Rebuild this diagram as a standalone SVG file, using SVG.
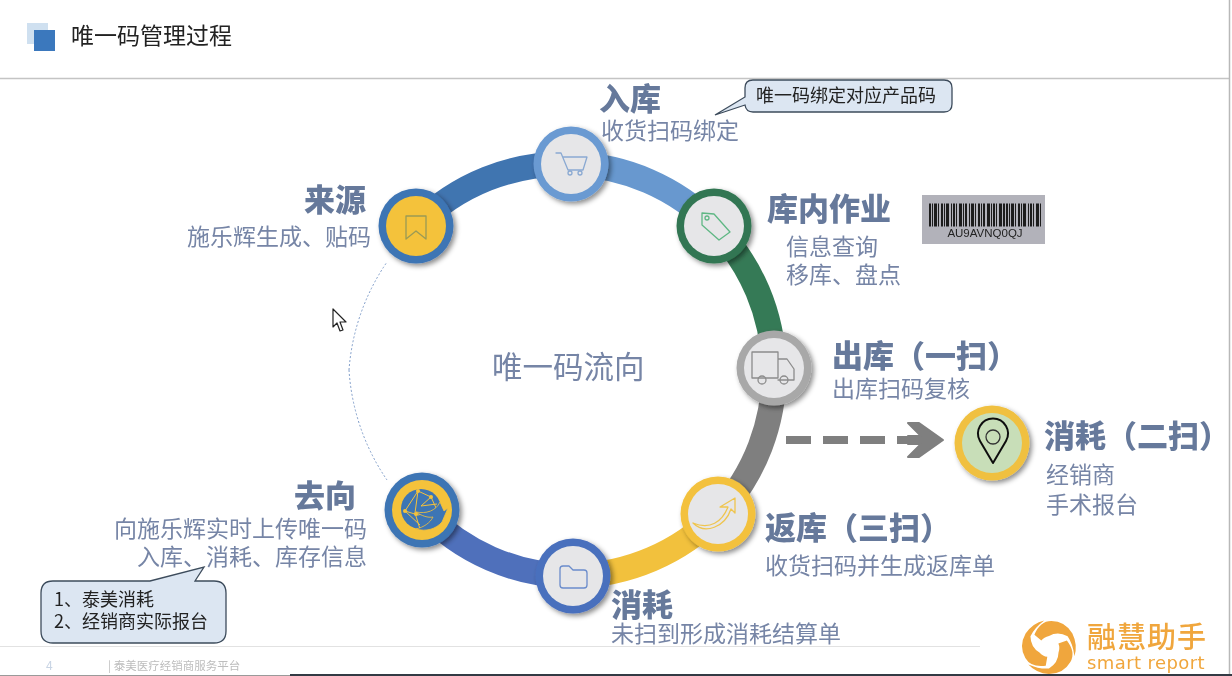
<svg xmlns="http://www.w3.org/2000/svg" width="1232" height="676" viewBox="0 0 1232 676">
<style>
text{font-family:"Noto Sans CJK SC","Noto Sans",sans-serif}
.h{font-size:31px;font-weight:900;fill:#66799b}
.s{font-size:23px;fill:#7685a6}
.c{font-size:18px;fill:#222}
.e{text-anchor:end}
.arc{fill:none;stroke-width:25}
.ic{fill:none;stroke-width:1.300;stroke-linejoin:round;stroke-linecap:round}
.in{fill:#e6e6e8}
</style>
<defs>
<filter id="sh" x="-30%" y="-30%" width="170%" height="170%"><feDropShadow dx="2.5" dy="2.5" stdDeviation="2.5" flood-color="#000" flood-opacity=".45"/></filter>
<filter id="soft" x="-5%" y="-5%" width="110%" height="110%"><feGaussianBlur stdDeviation=".4"/></filter>
<path id="blade" d="M1034.400 634.800Q1040 621 1051.300 621Q1065 621 1072.400 633.500Q1078 645 1074.400 656.200Q1073 644 1067.600 636.300Q1058 631 1049 636Q1044 637 1041.300 640.600Z"/>
</defs>
<rect width="1232" height="676" fill="#fff"/>
<g filter="url(#soft)">
<g id="header">
<rect x="27" y="23" width="21" height="21" fill="#cfe0f0"/>
<rect x="34" y="30" width="21" height="21" fill="#3a78bd"/>
<text x="71" y="44" font-size="23" fill="#222">唯一码管理过程</text>
<line x1="0" y1="78.500" x2="1229" y2="78.500" stroke="#c4c4c4" stroke-width="1.500"/>
</g>
<g id="connectors">
<path d="M349 370A219 219 0 0 1 387 262" fill="none" stroke="#7f9cc8" stroke-width="1" stroke-dasharray="2 2"/>
<path d="M349 370A219 219 0 0 0 387 480" fill="none" stroke="#7f9cc8" stroke-width="1" stroke-dasharray="2 2"/>
<path class="arc" stroke="#4174b0" d="M416 226A208 208 0 0 1 571 164"/>
<path class="arc" stroke="#6798cf" d="M571 164A208 208 0 0 1 714 226"/>
<path class="arc" stroke="#367a56" d="M714 226A208 208 0 0 1 774 368"/>
<path class="arc" stroke="#7f7f7f" d="M774 368A208 208 0 0 1 718 514"/>
<path class="arc" stroke="#f2c13c" d="M718 514A208 208 0 0 1 573 576"/>
<path class="arc" stroke="#4f70bb" d="M573 576A208 208 0 0 1 422 510"/>
<path d="M786 440H908" fill="none" stroke="#7f7f7f" stroke-width="8" stroke-dasharray="25 12"/>
<path d="M908 423L919 423L943 440L919 457L908 457L921 444H908V436H921Z" fill="#7f7f7f" stroke="#7f7f7f" stroke-width="2" stroke-linejoin="round"/>
</g>
<g id="node-source">
<circle cx="416" cy="226" r="37.500" fill="#3e74b4" filter="url(#sh)"/><circle cx="416" cy="226" r="30" fill="#f4c23b"/>
<path class="ic" stroke="#9a9a55" d="M406 216H426V239L416 231L406 239Z"/>
<text class="h e" x="366" y="211">来源</text>
<text class="s e" x="371" y="245">施乐辉生成、贴码</text>
</g>
<g id="node-inbound">
<circle cx="571" cy="164" r="37.500" fill="#6a9ad2" filter="url(#sh)"/><circle class="in" cx="571" cy="164" r="30"/>
<path class="ic" stroke="#8aa9d2" d="M556 153H561L568 170H583L587 157H563"/><circle class="ic" stroke="#8aa9d2" cx="570" cy="173" r="2"/><circle class="ic" stroke="#8aa9d2" cx="580" cy="173" r="2"/>
<text class="h" x="599" y="110">入库</text>
<text class="s" x="601" y="139">收货扫码绑定</text>
</g>
<g id="node-warehouse">
<circle cx="714" cy="226" r="37.500" fill="#327652" filter="url(#sh)"/><circle class="in" cx="714" cy="226" r="30"/>
<path class="ic" stroke="#5fb784" d="M702 213L714 214L730 232L719 240L702 225Z"/><circle class="ic" stroke="#5fb784" cx="707" cy="218" r="2"/>
<text class="h" x="767" y="220">库内作业</text>
<text class="s" x="786" y="255">信息查询</text>
<text class="s" x="786" y="283">移库、盘点</text>
</g>
<g id="node-outbound">
<circle cx="774" cy="368" r="37.500" fill="#a8a8a8" filter="url(#sh)"/><circle class="in" cx="774" cy="368" r="30"/>
<path class="ic" stroke="#8c8c8c" d="M752 352H778V378H752ZM778 359H787L794 369V380H778"/><circle class="ic" stroke="#8c8c8c" fill="#e6e6e8" cx="762" cy="380" r="4"/><circle class="ic" stroke="#8c8c8c" cx="784" cy="380" r="4"/>
<text class="h" x="832" y="367">出库（一扫）</text>
<text class="s" x="832" y="397">出库扫码复核</text>
</g>
<g id="node-return">
<circle cx="718" cy="514" r="37.500" fill="#f3c13c" filter="url(#sh)"/><circle class="in" cx="718" cy="514" r="30"/>
<path class="ic" stroke="#efc54f" d="M693 523C710 530 722 522 728 507L720 507L735 498L735 513L731 509C725 527 705 535 693 523Z"/>
<text class="h" x="765" y="539">返库（三扫）</text>
<text class="s" x="765" y="574">收货扫码并生成返库单</text>
</g>
<g id="node-consume">
<circle cx="573" cy="576" r="37.500" fill="#4a6fbd" filter="url(#sh)"/><circle class="in" cx="573" cy="576" r="30"/>
<path class="ic" stroke="#6b8ccb" d="M560 569Q560 566 563 566H569L573 570H584Q587 570 587 573V585Q587 588 584 588H563Q560 588 560 585Z"/>
<text class="h" x="611" y="616">消耗</text>
<text class="s" x="611" y="642">未扫到形成消耗结算单</text>
</g>
<g id="node-destination">
<circle cx="422" cy="510" r="37.500" fill="#3e74b4" filter="url(#sh)"/><circle cx="422" cy="510" r="30" fill="#f4c23b"/>
<circle cx="421" cy="509" r="20" fill="#3e74b4"/>
<path d="M405 511L418 491L431 497L437 510L418 515ZM418 491L415 513L420 529M405 511L420 525M431 497L421 506L437 504" fill="none" stroke="#f4c23b" stroke-width="1"/>
<path d="M416 512C426 514 436 511 440 502L444 511L448 508L442 522C436 529 426 532 416 529C424 527 430 523 433 517C428 518 422 516 416 512Z" fill="#3e74b4" stroke="#f4c23b" stroke-width=".8"/>
<g fill="#f4c23b"><circle cx="405" cy="511" r="2"/><circle cx="418" cy="491" r="2"/><circle cx="431" cy="497" r="2"/><circle cx="416" cy="514" r="2"/></g>
<text class="h e" x="356" y="507">去向</text>
<text class="s e" x="367" y="537">向施乐辉实时上传唯一码</text>
<text class="s e" x="367" y="565">入库、消耗、库存信息</text>
</g>
<g id="node-consume-2">
<circle cx="992" cy="443" r="37.500" fill="#f0c03f" filter="url(#sh)"/><circle cx="992" cy="443" r="30" fill="#c8deb8"/>
<path d="M993 463L980 441A15 15 0 1 1 1006 441Z" fill="none" stroke="#111" stroke-width="2" stroke-linejoin="round"/><circle cx="993" cy="437" r="7" fill="none" stroke="#333" stroke-width="1.300"/>
<text class="h" x="1044" y="447">消耗（二扫）</text>
<text class="s" x="1046" y="483">经销商</text>
<text class="s" x="1046" y="513">手术报台</text>
</g>
<g id="center-label"><text x="492" y="378" font-size="30.500" fill="#7685a6">唯一码流向</text></g>
<g id="callout-top">
<path d="M753 80H944Q952 80 952 88V104Q952 112 944 112H753Q746 112 745 105L715 115L745 97V88Q745 80 753 80Z" fill="#dce6f2" stroke="#3d4c5c" stroke-width="1.300"/>
<text class="c" x="756" y="102">唯一码绑定对应产品码</text>
</g>
<g id="callout-bottom">
<path d="M53 581H150L204 567L195 581H214Q226 581 226 593V631Q226 643 214 643H53Q41 643 41 631V593Q41 581 53 581Z" fill="#dce6f2" stroke="#3d4c5c" stroke-width="1.300"/>
<text x="54" y="606" font-size="18" fill="#222">1、泰美消耗</text>
<text x="54" y="628" font-size="18" fill="#222">2、经销商实际报台</text>
</g>
<g id="barcode">
<rect x="922" y="195" width="123" height="49" fill="#b2b2ba"/>
<line x1="929" y1="215" x2="1041" y2="215" stroke="#1a1a1e" stroke-width="23" stroke-dasharray="2 1 1 1 3 1 1 2 2 1 1 1 3 2 1 1 2 1 1 2 3 1 1 1 2 2 1 1 3 1 1 2 2 1 1 1 2 2 3 1 1 1 2 1 1 2 3 1 2 1"/>
<text x="985" y="237" text-anchor="middle" font-size="11.500" fill="#222" style="font-family:'Liberation Sans',sans-serif">AU9AVNQ0QJ</text>
</g>
<g id="footer">
<line x1="0" y1="646.500" x2="980" y2="646.500" stroke="#e2e2e2" stroke-width="1.200"/>
<text x="46" y="670" font-size="12" fill="#c8d4e4">4</text>
<text x="108" y="670" font-size="11.500" fill="#bdbdbd">| 泰美医疗经销商服务平台</text>
</g>
<g id="logo" fill="#f0a63c">
<use href="#blade"/>
<use href="#blade" transform="rotate(120 1049 647)"/>
<use href="#blade" transform="rotate(240 1049 647)"/>
<text x="1087" y="648" font-size="29" font-weight="500" style="letter-spacing:1px">融慧助手</text>
<text x="1087" y="669" font-size="18" style="font-family:'DejaVu Sans',sans-serif;letter-spacing:.4px">smart report</text>
</g>
<path id="cursor" d="M333 309V327L337 323L340 331L343 330L340 322L346 322Z" fill="#fff" stroke="#222" stroke-width="1.200" stroke-linejoin="round"/>
</g>
<g id="edges">
<line x1="1229.500" y1="0" x2="1229.500" y2="676" stroke="#b8b8b8" stroke-width="1.500"/>
<rect x="0" y="675" width="290" height="1" fill="#9a9a9a"/>
<rect x="290" y="674" width="942" height="2" fill="#333a44"/>
</g>
</svg>
